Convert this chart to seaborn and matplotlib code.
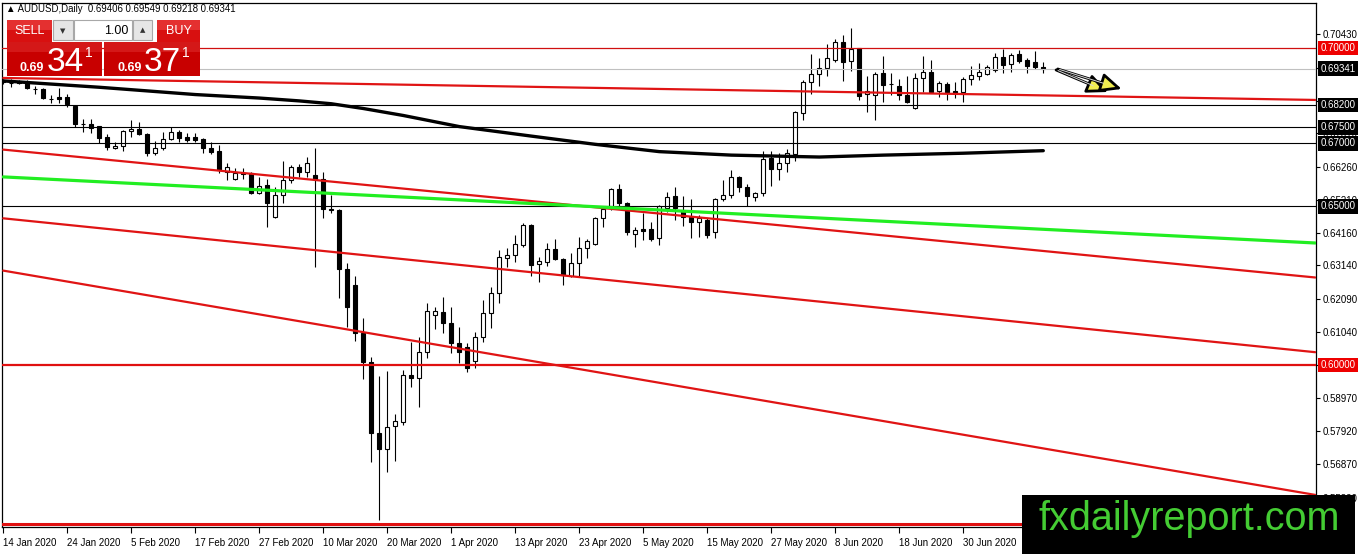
import numpy as np
import pandas as pd
import matplotlib
matplotlib.use("Agg")
import matplotlib.pyplot as plt
import seaborn as sns
from matplotlib.patches import Rectangle
from matplotlib.transforms import blended_transform_factory

# ---------------- data ----------------
symbol = "AUDUSD,Daily"
opens = [0.6894, 0.6891, 0.6897, 0.6893, 0.6870, 0.6869, 0.6838, 0.6846, 0.6844, 0.6817,
         0.6760, 0.6760, 0.6754, 0.6718, 0.6683, 0.6691, 0.6737, 0.6745, 0.6729, 0.6670,
         0.6683, 0.6712, 0.6734, 0.6718, 0.6718, 0.6712, 0.6685, 0.6675, 0.6610, 0.6586,
         0.6605, 0.6605, 0.6542, 0.6568, 0.6466, 0.6536, 0.6584, 0.6624, 0.6610, 0.6600,
         0.6586, 0.6491, 0.6489, 0.6302, 0.6252, 0.6102, 0.6011, 0.5785, 0.5734, 0.5808,
         0.5821, 0.5969, 0.5958, 0.6040, 0.6157, 0.6166, 0.6132, 0.6070, 0.6056, 0.6014,
         0.6088, 0.6165, 0.6228, 0.6337, 0.6346, 0.6378, 0.6442, 0.6318, 0.6326, 0.6365,
         0.6333, 0.6281, 0.6321, 0.6368, 0.6382, 0.6463, 0.6500, 0.6554, 0.6510, 0.6413,
         0.6428, 0.6428, 0.6400, 0.6494, 0.6533, 0.6486, 0.6468, 0.6452, 0.6457, 0.6419,
         0.6524, 0.6536, 0.6594, 0.6563, 0.6531, 0.6542, 0.6652, 0.6618, 0.6637, 0.6665,
         0.6794, 0.6892, 0.6917, 0.6938, 0.6962, 0.7020, 0.6959, 0.6999, 0.6854, 0.6852,
         0.6920, 0.6887, 0.6880, 0.6852, 0.6810, 0.6904, 0.6925, 0.6865, 0.6886, 0.6864,
         0.6862, 0.6901, 0.6912, 0.6918, 0.6930, 0.6970, 0.6949, 0.6981, 0.6962, 0.6955,
         0.69406]
highs = [0.6902, 0.6901, 0.6899, 0.6899, 0.6880, 0.6873, 0.6852, 0.6873, 0.6855, 0.6820,
         0.6775, 0.6775, 0.6755, 0.6729, 0.6704, 0.6741, 0.6773, 0.6765, 0.6731, 0.6707,
         0.6736, 0.6752, 0.6741, 0.6733, 0.6731, 0.6715, 0.6704, 0.6694, 0.6637, 0.6621,
         0.6621, 0.6610, 0.6592, 0.6586, 0.6563, 0.6642, 0.6631, 0.6634, 0.6655, 0.6684,
         0.6610, 0.6536, 0.6491, 0.6323, 0.6281, 0.6147, 0.6026, 0.5965, 0.5982, 0.5847,
         0.5984, 0.6074, 0.6088, 0.6197, 0.6184, 0.6214, 0.6182, 0.6119, 0.6070, 0.6105,
         0.6205, 0.6245, 0.6363, 0.6368, 0.6410, 0.6449, 0.6444, 0.6340, 0.6384, 0.6396,
         0.6337, 0.6352, 0.6405, 0.6396, 0.6468, 0.6502, 0.6557, 0.6571, 0.6515, 0.6436,
         0.6479, 0.6452, 0.6505, 0.6547, 0.6562, 0.6533, 0.6524, 0.6473, 0.6463, 0.6528,
         0.6584, 0.6615, 0.6597, 0.6570, 0.6546, 0.6675, 0.6675, 0.6668, 0.6681, 0.6801,
         0.6899, 0.6980, 0.6969, 0.7012, 0.7028, 0.7041, 0.7062, 0.7001, 0.6912, 0.6925,
         0.6975, 0.6920, 0.6901, 0.6911, 0.6920, 0.6975, 0.6962, 0.6897, 0.6893, 0.6893,
         0.6909, 0.6943, 0.6954, 0.6946, 0.6985, 0.6996, 0.6983, 0.6994, 0.6967, 0.6991,
         0.69549]
lows = [0.6886, 0.6878, 0.6886, 0.6870, 0.6855, 0.6839, 0.6825, 0.6827, 0.6815, 0.6750,
        0.6736, 0.6733, 0.6701, 0.6678, 0.6680, 0.6676, 0.6720, 0.6725, 0.6659, 0.6662,
        0.6678, 0.6710, 0.6704, 0.6704, 0.6704, 0.6670, 0.6666, 0.6607, 0.6584, 0.6584,
        0.6586, 0.6539, 0.6539, 0.6434, 0.6463, 0.6510, 0.6575, 0.6594, 0.6594, 0.6308,
        0.6463, 0.6480, 0.6211, 0.6121, 0.6077, 0.5955, 0.5695, 0.5511, 0.5663, 0.5699,
        0.5811, 0.5930, 0.5869, 0.6021, 0.6113, 0.6102, 0.6039, 0.6005, 0.5979, 0.5990,
        0.6074, 0.6116, 0.6195, 0.6310, 0.6326, 0.6373, 0.6281, 0.6263, 0.6312, 0.6331,
        0.6252, 0.6279, 0.6281, 0.6337, 0.6378, 0.6434, 0.6489, 0.6502, 0.6410, 0.6371,
        0.6394, 0.6392, 0.6378, 0.6484, 0.6457, 0.6440, 0.6400, 0.6405, 0.6400, 0.6400,
        0.6517, 0.6526, 0.6547, 0.6503, 0.6517, 0.6534, 0.6566, 0.6584, 0.6610, 0.6644,
        0.6773, 0.6854, 0.6881, 0.6912, 0.6957, 0.6896, 0.6927, 0.6836, 0.6797, 0.6773,
        0.6830, 0.6852, 0.6836, 0.6827, 0.6807, 0.6862, 0.6857, 0.6844, 0.6836, 0.6841,
        0.6830, 0.6883, 0.6899, 0.6915, 0.6925, 0.6920, 0.6925, 0.6951, 0.6922, 0.6933,
        0.69218]
closes = [0.6896, 0.6890, 0.6890, 0.6873, 0.6869, 0.6841, 0.6839, 0.6838, 0.6822, 0.6759,
          0.6761, 0.6747, 0.6717, 0.6689, 0.6691, 0.6738, 0.6745, 0.6728, 0.6670, 0.6684,
          0.6713, 0.6736, 0.6717, 0.6710, 0.6709, 0.6683, 0.6672, 0.6615, 0.6624, 0.6605,
          0.6604, 0.6542, 0.6566, 0.6510, 0.6536, 0.6582, 0.6624, 0.6610, 0.6637, 0.6586,
          0.6491, 0.6489, 0.6302, 0.6184, 0.6102, 0.6011, 0.5785, 0.5734, 0.5806, 0.5824,
          0.5969, 0.5958, 0.6040, 0.6171, 0.6169, 0.6132, 0.6070, 0.6042, 0.5990, 0.6088,
          0.6165, 0.6228, 0.6340, 0.6346, 0.6382, 0.6442, 0.6315, 0.6329, 0.6365, 0.6333,
          0.6284, 0.6321, 0.6368, 0.6391, 0.6463, 0.6491, 0.6554, 0.6510, 0.6418, 0.6426,
          0.6424, 0.6398, 0.6502, 0.6531, 0.6494, 0.6468, 0.6452, 0.6465, 0.6410, 0.6524,
          0.6536, 0.6594, 0.6563, 0.6534, 0.6542, 0.6650, 0.6618, 0.6637, 0.6668, 0.6797,
          0.6893, 0.6917, 0.6938, 0.6967, 0.7018, 0.6957, 0.6997, 0.6849, 0.6864, 0.6917,
          0.6883, 0.6885, 0.6852, 0.6830, 0.6904, 0.6925, 0.6862, 0.6888, 0.6862, 0.6859,
          0.6901, 0.6915, 0.6925, 0.6939, 0.6970, 0.6946, 0.6978, 0.6960, 0.6943, 0.6939,
          0.69341]

# moving average (thick black line), read at a number of bars
ma_bar = [0, 12, 24, 32, 37, 41, 45, 50, 57, 66, 74, 82, 91, 102, 110, 120, 130]
ma_val = [0.6896, 0.6876, 0.6853, 0.6842, 0.6833, 0.6824, 0.6809, 0.6787, 0.6752,
          0.6722, 0.6696, 0.6673, 0.6662, 0.6656, 0.6662, 0.6668, 0.6676]

# sloping trend lines: (bar0, price0, bar1, price1)
red_trend_bar0 = [0, 0, 0, 0]
red_trend_p0 = [0.69053, 0.66794, 0.64627, 0.62978]
red_trend_bar1 = [164, 164, 164, 164]
red_trend_p1 = [0.68360, 0.62761, 0.60405, 0.55905]
green_trend = [0, 0.65933, 164, 0.63849]

# horizontal levels
black_levels = [0.6820, 0.6750, 0.6700, 0.6500]
red_levels = [0.7000, 0.6000, 0.5500]
bid_price = 0.69341
ohlc_last = "0.69406 0.69549 0.69218 0.69341"

# axis ticks / labels (labels hidden under the price boxes are left blank)
price_ticks = [0.70430, 0.69380, 0.68330, 0.67310, 0.66260, 0.65210, 0.64160, 0.63140,
               0.62090, 0.61040, 0.59990, 0.58970, 0.57920, 0.56870, 0.55820]
price_tick_labels = ["0.70430", "", "", "0.67310", "0.66260", "0.65210", "0.64160",
                     "0.63140", "0.62090", "0.61040", "", "0.58970", "0.57920",
                     "0.56870", "0.55820"]
date_tick_bar = [0, 8, 16, 24, 32, 40, 48, 56, 64, 72, 80, 88, 96, 104, 112, 120, 128]
date_labels = ["14 Jan 2020", "24 Jan 2020", "5 Feb 2020", "17 Feb 2020", "27 Feb 2020",
               "10 Mar 2020", "20 Mar 2020", "1 Apr 2020", "13 Apr 2020", "23 Apr 2020",
               "5 May 2020", "15 May 2020", "27 May 2020", "8 Jun 2020", "18 Jun 2020",
               "30 Jun 2020", "10 Jul 2020"]

# arrows: (bar_from, price_from, bar_to, price_to)
arrows = [(131.6, 0.69305, 138.1, 0.68611), (131.8, 0.69337, 139.8, 0.68706)]

watermark = "fxdailyreport.com"

# ---------------- style ----------------
sns.set_style("white")
plt.rcParams["font.family"] = ["Liberation Sans", "DejaVu Sans"]

W, H = 1362, 554
fig = plt.figure(figsize=(W / 100, H / 100), dpi=100)
fig.patch.set_facecolor("white")
L, R, T, B = 2, 1316, 3, 527
ax = fig.add_axes([L / W, (H - B) / H, (R - L) / W, (B - T) / H])
ax.set_facecolor("white")

df = pd.DataFrame({"bar": np.arange(len(opens)), "open": opens, "high": highs,
                   "low": lows, "close": closes})
up = df["close"] >= df["open"]

# candles
ax.vlines(df["bar"], df["low"], df["high"], color="black", lw=0.8, zorder=2)
body_bottom = np.minimum(df["open"], df["close"])
body_h = np.maximum((df["close"] - df["open"]).abs(), 0.00004)
ax.bar(df["bar"], body_h, bottom=body_bottom, width=0.52,
       color=np.where(up, "white", "black"), edgecolor="black", linewidth=0.8, zorder=3)

# horizontal levels
for lv in black_levels:
    ax.axhline(lv, color="black", lw=0.8, zorder=4)
ax.axhline(bid_price, color="#c0c0c0", lw=0.8, zorder=4)
ax.axhline(red_levels[0], color="#d01010", lw=0.9, zorder=4)
ax.axhline(red_levels[1], color="#e01010", lw=1.6, zorder=4)
ax.axhline(red_levels[2], color="#e01010", lw=2.2, zorder=4)

# trend lines
for b0, p0, b1, p1 in zip(red_trend_bar0, red_trend_p0, red_trend_bar1, red_trend_p1):
    tl = pd.DataFrame({"bar": [b0, b1], "price": [p0, p1]})
    sns.lineplot(data=tl, x="bar", y="price", color="#e01414", lw=1.6, ax=ax, zorder=5)
gl = pd.DataFrame({"bar": [green_trend[0], green_trend[2]],
                   "price": [green_trend[1], green_trend[3]]})
sns.lineplot(data=gl, x="bar", y="price", color="#22ee22", lw=2.3, ax=ax, zorder=5)

# moving average
ma = pd.DataFrame({"bar": ma_bar, "price": ma_val})
sns.lineplot(data=ma, x="bar", y="price", color="black", lw=2.4, ax=ax, zorder=6)
ax.lines[-1].set_solid_joinstyle("round")

# arrows: outlined shaft with a yellow head
for b0, p0, b1, p1 in arrows:
    ax.annotate("", xy=(b1, p1), xytext=(b0, p0),
                arrowprops=dict(arrowstyle="-|>,head_length=0.7,head_width=0.32",
                                fc="#f0ec50", ec="black", lw=2.0,
                                mutation_scale=18, shrinkA=0, shrinkB=0), zorder=7)
    ax.plot([b0 + 0.2, b0 + 0.72 * (b1 - b0)], [p0 + 0.02 * (p1 - p0), p0 + 0.72 * (p1 - p0)],
            color="#d8d8d8", lw=0.7, zorder=8, solid_capstyle="butt")

# axes limits / ticks
ax.set_xlim(-0.16, 164.09)
ax.set_ylim(0.54893, 0.71417)
ax.set_xlabel("")
ax.set_ylabel("")
ax.yaxis.tick_right()
ax.set_yticks(price_ticks)
ax.set_yticklabels(price_tick_labels)
ax.set_xticks(date_tick_bar)
ax.set_xticklabels(date_labels, ha="left")
ax.tick_params(axis="y", length=3, width=0.8, pad=2, labelsize=7, colors="black", right=True, left=False)
ax.tick_params(axis="x", length=4, width=0.8, pad=4, labelsize=7, colors="black", bottom=True)
for sp in ax.spines.values():
    sp.set_visible(True)
    sp.set_color("black")
    sp.set_linewidth(0.9)

# boxed price labels on the right axis
trans = blended_transform_factory(ax.transAxes, ax.transData)
boxes = [(red_levels[0], "#ee0000"), (bid_price, "black")] + \
        [(lv, "black") for lv in black_levels] + [(red_levels[1], "#ee0000")]
for lv, fc in boxes:
    ax.text(1 + 4.5 / (R - L), lv, f"{lv:.5f}", transform=trans, ha="left", va="center",
            fontsize=7, color="white", clip_on=False, zorder=20,
            bbox=dict(boxstyle="square,pad=0.25", fc=fc, ec="none"))


# ---------------- overlays in pixel coordinates ----------------
def prect(x0, y0, x1, y1, fc, ec="none", lw=0, z=30):
    fig.add_artist(Rectangle((x0 / W, 1 - y1 / H), (x1 - x0) / W, (y1 - y0) / H,
                             transform=fig.transFigure, fc=fc, ec=ec, lw=lw, zorder=z))


def ptext(x, y, s, z=31, **kw):
    fig.text(x / W, 1 - y / H, s, zorder=z, **kw)


ptext(6, 9.5, "\u25b2 " + symbol + "  " + ohlc_last, fontsize=6.9, va="center", color="black",
      family=["Liberation Sans", "DejaVu Sans"])

# trade panel
prect(5, 19, 201, 42, "white")
prect(7, 20, 52, 42, "#d81010")
prect(7, 20, 52, 30, "#e43030")
prect(157, 20, 200, 42, "#d81010")
prect(157, 20, 200, 30, "#e43030")
prect(53, 20, 73, 40, "#e6e6e6", ec="#a8a8a8", lw=0.8)
prect(74, 20, 132, 40, "white", ec="#a8a8a8", lw=0.8)
prect(133, 20, 152, 40, "#e6e6e6", ec="#a8a8a8", lw=0.8)
prect(7, 42, 102, 76, "#c80000")
prect(104, 42, 200, 76, "#c80000")
prect(7, 42, 102, 52, "#d41818")
prect(104, 42, 200, 52, "#d41818")
ptext(29.5, 31, "SELL", fontsize=9, color="white", ha="center", va="center")
ptext(178.5, 31, "BUY", fontsize=9, color="white", ha="center", va="center")
ptext(63, 31, "\u25bc", fontsize=5, color="#333333", ha="center", va="center", family=["DejaVu Sans"])
ptext(142.5, 30, "\u25b2", fontsize=5, color="#333333", ha="center", va="center", family=["DejaVu Sans"])
ptext(128, 30.5, "1.00", fontsize=9, color="black", ha="right", va="center")
ptext(20, 71, "0.69", fontsize=9, color="white", fontweight="bold", va="baseline")
ptext(47, 71, "34", fontsize=24, color="white", va="baseline")
ptext(85, 57, "1", fontsize=10, color="white", va="baseline")
ptext(117, 71, "0.69", fontsize=9, color="white", fontweight="bold", va="baseline")
ptext(144, 71, "37", fontsize=24, color="white", va="baseline")
ptext(182, 57, "1", fontsize=10, color="white", va="baseline")

# watermark
prect(1022, 495, 1355, 555, "black", z=40)
ptext(1189, 530, watermark, z=41, fontsize=28.5, color="#44cc33", ha="center", va="baseline")

fig.savefig("out.png", dpi=100, facecolor="white")
